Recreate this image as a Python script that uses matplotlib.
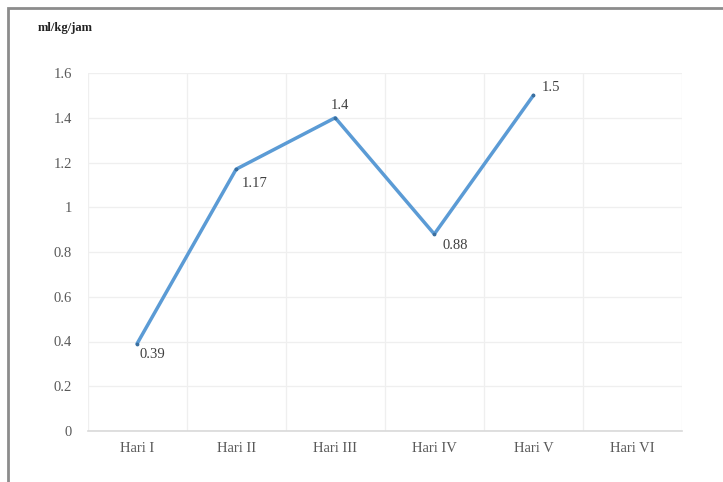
import matplotlib
matplotlib.use("Agg")
import matplotlib.pyplot as plt
from matplotlib.patches import Rectangle
import numpy as np

days = ["Hari I", "Hari II", "Hari III", "Hari IV", "Hari V", "Hari VI"]
rate = [0.39, 1.17, 1.4, 0.88, 1.5]
rate_labels = ["0.39", "1.17", "1.4", "0.88", "1.5"]
y_ticks = [0, 0.2, 0.4, 0.6, 0.8, 1.0, 1.2, 1.4, 1.6]
y_tick_labels = ["0", "0.2", "0.4", "0.6", "0.8", "1", "1.2", "1.4", "1.6"]

# label offsets in points (dx, dy) relative to each point
offsets = [(2, -8), (4, -10), (-3, 9), (6, -8), (6, 6)]

plt.rcParams["font.family"] = ["Liberation Serif", "DejaVu Serif"]

W, H = 723, 482
fig = plt.figure(figsize=(W / 100, H / 100), dpi=100)

# outer frame
fig.patches.append(Rectangle((8 / W, -0.1), 1.2, 1 - 8 / H + 0.1, transform=fig.transFigure,
                             fill=False, edgecolor="#8c8c8c", linewidth=2.0))

ax = fig.add_axes([87.5 / W, 1 - 431 / H, (682 - 87.5) / W, (431 - 73) / H])
x = np.arange(len(days))
ax.set_xlim(-0.5, len(days) - 0.5)
ax.set_ylim(0, 1.6)

ax.plot(x[:len(rate)], rate, color="#5b9bd5", linewidth=2.5, solid_capstyle="round", zorder=3)
ax.scatter(x[:len(rate)], rate, s=3, color="#3a6f9f", zorder=4)

for xi, v, lab, (dx, dy) in zip(x, rate, rate_labels, offsets):
    ax.annotate(lab, (xi, v), xytext=(dx, dy), textcoords="offset points",
                ha="left", va="center", fontsize=10.5, color="#404040")

ax.set_xticks(x)
ax.set_xticklabels(days)
ax.set_xticks(np.arange(-0.5, len(days), 1), minor=True)
ax.set_yticks(y_ticks)
ax.set_yticklabels(y_tick_labels)

ax.grid(which="minor", axis="x", color="#efefef", linewidth=0.9)
ax.grid(which="major", axis="y", color="#efefef", linewidth=0.9)
ax.set_axisbelow(True)
ax.tick_params(which="both", length=0)
ax.tick_params(axis="both", labelsize=10.5, labelcolor="#595959")
ax.tick_params(axis="x", pad=8)
ax.tick_params(axis="y", pad=11)

for side in ["top", "right", "left"]:
    ax.spines[side].set_visible(False)
ax.spines["bottom"].set_color("#d9d9d9")
ax.spines["bottom"].set_linewidth(1.2)

fig.text(38 / W, 1 - 28 / H, "ml/kg/jam", fontsize=9, fontweight="bold", color="#222222",
         ha="left", va="center")

fig.savefig("out.png", dpi=100)
